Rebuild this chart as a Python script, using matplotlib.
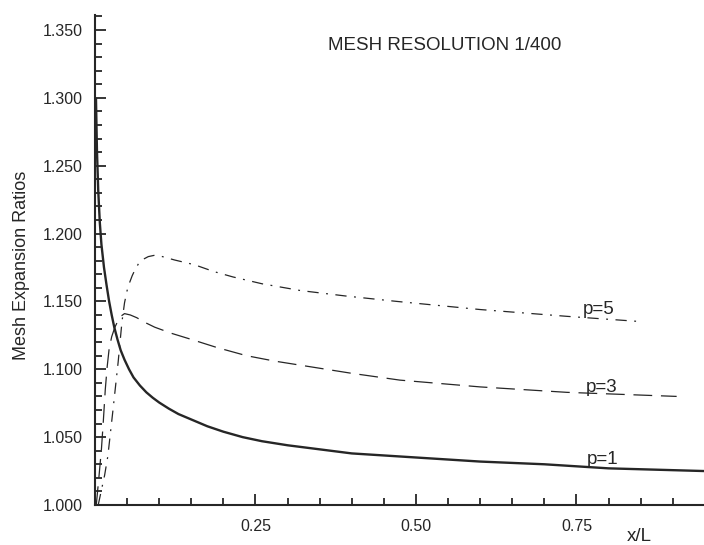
import matplotlib
matplotlib.use("Agg")
import matplotlib.pyplot as plt
from matplotlib.ticker import MultipleLocator, FixedLocator, FuncFormatter

plt.rcParams['font.family'] = ['Liberation Sans', 'DejaVu Sans']

# ---- data ----
p1_x = [0.0015, 0.003, 0.005, 0.0075, 0.010, 0.014, 0.018, 0.022, 0.026, 0.030,
        0.035, 0.040, 0.046, 0.053, 0.060, 0.070, 0.080, 0.090, 0.100, 0.115,
        0.130, 0.150, 0.175, 0.200, 0.230, 0.260, 0.300, 0.350, 0.400, 0.500,
        0.600, 0.700, 0.800, 0.950]
p1_y = [1.300, 1.262, 1.232, 1.208, 1.192, 1.175, 1.162, 1.150, 1.140, 1.131,
        1.122, 1.114, 1.107, 1.100, 1.094, 1.088, 1.083, 1.079, 1.0755, 1.071,
        1.067, 1.063, 1.058, 1.054, 1.050, 1.047, 1.044, 1.041, 1.038, 1.035,
        1.032, 1.030, 1.027, 1.025]

p3_x = [0.002, 0.006, 0.010, 0.013, 0.016, 0.019, 0.022, 0.026, 0.031, 0.036,
        0.040, 0.046, 0.055, 0.065, 0.080, 0.093, 0.119, 0.150, 0.190, 0.236,
        0.280, 0.320, 0.400, 0.475, 0.600, 0.735, 0.906]
p3_y = [1.000, 1.020, 1.041, 1.062, 1.085, 1.102, 1.115, 1.124, 1.131, 1.136,
        1.139, 1.141, 1.140, 1.138, 1.134, 1.131, 1.1265, 1.122, 1.116, 1.110,
        1.106, 1.103, 1.097, 1.092, 1.087, 1.083, 1.080]

p5_x = [0.005, 0.015, 0.020, 0.028, 0.036, 0.042, 0.046, 0.050, 0.054, 0.058,
        0.062, 0.068, 0.075, 0.083, 0.093, 0.105, 0.124, 0.155, 0.185, 0.215,
        0.260, 0.320, 0.390, 0.470, 0.600, 0.735, 0.854]
p5_y = [1.000, 1.022, 1.036, 1.070, 1.105, 1.135, 1.149, 1.158, 1.164, 1.169,
        1.173, 1.178, 1.181, 1.183, 1.184, 1.183, 1.1805, 1.177, 1.172, 1.168,
        1.163, 1.158, 1.154, 1.150, 1.144, 1.139, 1.135]

y_ticks = [1.000, 1.050, 1.100, 1.150, 1.200, 1.250, 1.300, 1.350]
x_ticks = [0.25, 0.50, 0.75]
series_labels = ["p=1", "p=3", "p=5"]
title_text = "MESH RESOLUTION 1/400"
ylabel_text = "Mesh Expansion Ratios"
xlabel_text = "x/L"

ink = "#262626"

fig = plt.figure(figsize=(7.04, 5.45), dpi=100)
ax = fig.add_axes([95/704, 40/545, 609/704, 490/545])

ax.plot(p1_x, p1_y, color=ink, lw=1.7, solid_capstyle='butt', solid_joinstyle='round')
ax.plot(p3_x, p3_y, color=ink, lw=0.9, dashes=(15, 7))
ax.plot(p5_x, p5_y, color=ink, lw=0.9, dashes=(9, 6, 1.5, 6))

ax.set_xlim(0, 0.9486)
ax.set_ylim(1.0, 1.361)

for s in ['top', 'right']:
    ax.spines[s].set_visible(False)
for s in ['left', 'bottom']:
    ax.spines[s].set_linewidth(1.5)
    ax.spines[s].set_color(ink)

ax.xaxis.set_major_locator(FixedLocator(x_ticks))
ax.xaxis.set_minor_locator(MultipleLocator(0.05))
ax.yaxis.set_major_locator(FixedLocator(y_ticks))
ax.yaxis.set_minor_locator(MultipleLocator(0.01))
ax.xaxis.set_major_formatter(FuncFormatter(lambda v, p: f"{v:.2f}"))
ax.yaxis.set_major_formatter(FuncFormatter(lambda v, p: f"{v:.3f}"))

ax.tick_params(which='both', direction='in', color=ink, width=1.3,
               labelcolor=ink, labelsize=11.5)
ax.tick_params(which='major', length=8)
ax.tick_params(which='minor', length=5)
ax.tick_params(axis='x', which='major', pad=10)
ax.tick_params(axis='y', which='major', pad=9)

ax.text(0.363, 1.3350, title_text, fontsize=13.5, color=ink, va='baseline', ha='left')
ax.text(0.829, 0.9735, xlabel_text, fontsize=13.5, color=ink, va='baseline', ha='left',
        clip_on=False)
fig.text(22/704, 1 - 265/545, ylabel_text, rotation=90, fontsize=13, color=ink,
         ha='center', va='center')

label_pos = [(0.766, 1.0305), (0.765, 1.0830), (0.760, 1.1410)]
for (lx, ly), lab in zip(label_pos, series_labels):
    ax.text(lx, ly, lab, fontsize=13.5, color=ink, va='baseline', ha='left')

fig.savefig("out.png", dpi=100, facecolor='white')
